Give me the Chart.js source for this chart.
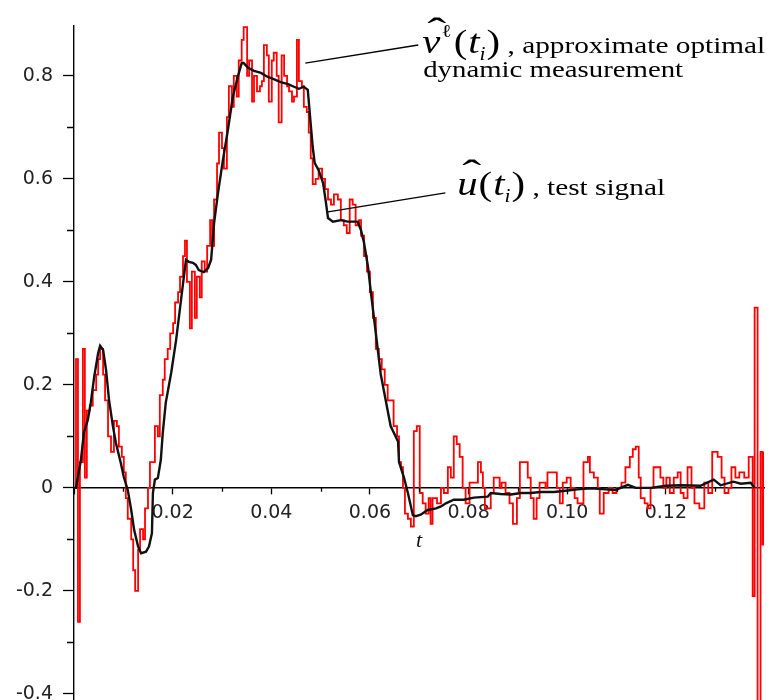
<!DOCTYPE html>
<html>
<head>
<meta charset="utf-8">
<script src="https://cdn.jsdelivr.net/npm/chart.js@4.4.1/dist/chart.umd.min.js"></script>
<style>
  html, body { margin: 0; padding: 0; background: #fff; }
  #wrap { width: 772px; height: 700px; }
</style>
</head>
<body>
<div id="wrap"><canvas id="chart" width="772" height="700"></canvas></div>
<script>
/* global Chart */

// u^(t_i), test signal: [t, value]
const testSignal = [
  [0, 0], [0.0004, 0.0], [0.0014, 0.054], [0.0020, 0.107], [0.0028, 0.132], [0.0034, 0.165],
  [0.0041, 0.216], [0.0049, 0.262], [0.0053, 0.276], [0.0059, 0.268], [0.0065, 0.229],
  [0.0071, 0.171], [0.0079, 0.119], [0.0085, 0.087], [0.0095, 0.048], [0.0101, 0.021],
  [0.0109, -0.004], [0.0116, -0.043], [0.0122, -0.082], [0.0130, -0.114], [0.0136, -0.127],
  [0.0146, -0.124], [0.0152, -0.114], [0.0158, -0.088], [0.0160, -0.01], [0.0164, 0.016],
  [0.0170, 0.019], [0.0176, 0.054], [0.0180, 0.107], [0.0186, 0.165], [0.0197, 0.223],
  [0.0207, 0.287], [0.0217, 0.365], [0.0227, 0.443], [0.0233, 0.439], [0.0241, 0.437],
  [0.0247, 0.433], [0.0253, 0.423], [0.0263, 0.419], [0.0272, 0.427], [0.0278, 0.443],
  [0.0284, 0.514], [0.0292, 0.573], [0.0302, 0.637], [0.0312, 0.695], [0.0322, 0.759],
  [0.0332, 0.798], [0.0340, 0.825], [0.0344, 0.825], [0.0353, 0.816], [0.0365, 0.810],
  [0.0379, 0.806], [0.0393, 0.798], [0.0405, 0.794], [0.0419, 0.788], [0.0434, 0.784],
  [0.0446, 0.779], [0.0456, 0.775], [0.0466, 0.779], [0.0474, 0.773], [0.0478, 0.728],
  [0.0484, 0.662], [0.0488, 0.631], [0.0496, 0.617], [0.0505, 0.592], [0.0511, 0.553],
  [0.0515, 0.524], [0.0525, 0.517], [0.0541, 0.520], [0.0555, 0.517], [0.0575, 0.517],
  [0.0582, 0.500], [0.0588, 0.476], [0.0596, 0.430], [0.0602, 0.379], [0.0612, 0.30],
  [0.0622, 0.22], [0.0632, 0.17], [0.0642, 0.12], [0.0657, 0.09], [0.0659, 0.05],
  [0.0669, 0.02], [0.0677, -0.01], [0.0687, -0.053], [0.0693, -0.055], [0.0703, -0.052],
  [0.0717, -0.043], [0.0734, -0.040], [0.0744, -0.036], [0.0754, -0.030], [0.0770, -0.023],
  [0.0790, -0.023], [0.0811, -0.019], [0.0839, -0.017], [0.0845, -0.010], [0.0865, -0.012],
  [0.0886, -0.013], [0.0906, -0.010], [0.0926, -0.010], [0.0946, -0.008], [0.0973, -0.008],
  [0.1001, -0.005], [0.1021, -0.003], [0.1048, -0.001], [0.1078, -0.003], [0.1098, -0.004],
  [0.1123, 0.006], [0.1139, 0.0], [0.1169, 0.0], [0.1200, 0.004], [0.1230, 0.005],
  [0.1270, 0.004], [0.1297, 0.016], [0.1311, 0.005], [0.1337, 0.012], [0.1352, 0.008],
  [0.1372, 0.010], [0.1380, 0.0],
];

// v^l(t_i), approximate optimal dynamic measurement: [t, value], held until the next t
const measured = [
  [0, 0], [0.0004, 0.25], [0.0008, -0.26], [0.0012, 0.05], [0.0018, 0.27], [0.0022, 0.02],
  [0.0026, 0.15], [0.0032, 0.16], [0.0038, 0.19], [0.0045, 0.22], [0.0049, 0.25], [0.0053, 0.27],
  [0.0059, 0.22], [0.0063, 0.17], [0.0069, 0.10], [0.0075, 0.07], [0.0081, 0.13], [0.0087, 0.12],
  [0.0091, 0.08], [0.0097, 0.06], [0.0101, 0.03], [0.0105, -0.02], [0.0109, -0.06], [0.0116, -0.10],
  [0.0120, -0.16], [0.0124, -0.20], [0.0130, -0.12], [0.0134, -0.08], [0.0140, -0.10], [0.0144, -0.04],
  [0.0150, 0.00], [0.0154, 0.05], [0.0160, 0.05], [0.0164, 0.12], [0.0170, 0.10], [0.0174, 0.18],
  [0.0180, 0.21], [0.0184, 0.25], [0.0190, 0.27], [0.0195, 0.30], [0.0201, 0.32], [0.0205, 0.36],
  [0.0211, 0.38], [0.0215, 0.41], [0.0221, 0.45], [0.0225, 0.48], [0.0229, 0.40], [0.0235, 0.31],
  [0.0239, 0.42], [0.0245, 0.33], [0.0249, 0.41], [0.0255, 0.37], [0.0259, 0.44], [0.0265, 0.42],
  [0.0270, 0.47], [0.0276, 0.52], [0.0280, 0.47], [0.0284, 0.56], [0.0290, 0.63], [0.0294, 0.69],
  [0.0300, 0.66], [0.0304, 0.62], [0.0310, 0.72], [0.0314, 0.78], [0.0320, 0.74], [0.0324, 0.80],
  [0.0330, 0.76], [0.0334, 0.83], [0.0340, 0.87], [0.0344, 0.895], [0.0351, 0.80], [0.0355, 0.83],
  [0.0361, 0.75], [0.0365, 0.80], [0.0371, 0.77], [0.0377, 0.78], [0.0381, 0.79], [0.0385, 0.86],
  [0.0391, 0.84], [0.0395, 0.75], [0.0401, 0.83], [0.0405, 0.845], [0.0411, 0.80], [0.0415, 0.71],
  [0.0421, 0.84], [0.0426, 0.80], [0.0432, 0.78], [0.0436, 0.77], [0.0442, 0.75], [0.0446, 0.76],
  [0.0452, 0.87], [0.0456, 0.79], [0.0462, 0.78], [0.0466, 0.74], [0.0472, 0.73], [0.0476, 0.69],
  [0.0480, 0.64], [0.0484, 0.59], [0.0490, 0.60], [0.0496, 0.62], [0.0503, 0.60], [0.0509, 0.58],
  [0.0515, 0.56], [0.0521, 0.55], [0.0527, 0.57], [0.0535, 0.56], [0.0541, 0.52], [0.0547, 0.51],
  [0.0553, 0.495], [0.0559, 0.56], [0.0565, 0.55], [0.0571, 0.51], [0.0578, 0.52], [0.0582, 0.49],
  [0.0588, 0.45], [0.0594, 0.42], [0.0600, 0.38], [0.0606, 0.33], [0.0612, 0.27], [0.0618, 0.25],
  [0.0624, 0.23], [0.0630, 0.20], [0.0636, 0.17], [0.0642, 0.17], [0.0648, 0.12], [0.0655, 0.10],
  [0.0659, 0.05], [0.0663, 0.04], [0.0667, 0.0], [0.0671, -0.05], [0.0677, -0.06], [0.0683, -0.075],
  [0.0689, 0.11], [0.0695, 0.12], [0.0701, -0.01], [0.0707, -0.03], [0.0713, -0.05], [0.0719, -0.02],
  [0.0723, -0.07], [0.0727, -0.02], [0.0736, -0.03], [0.0744, 0.0], [0.0750, -0.01], [0.0758, 0.04],
  [0.0764, 0.02], [0.0770, 0.10], [0.0776, 0.085], [0.0782, 0.06], [0.0788, 0.0], [0.0794, -0.03],
  [0.0802, 0.01], [0.0811, 0.01], [0.0819, 0.05], [0.0825, 0.03], [0.0829, 0.0], [0.0833, -0.04],
  [0.0841, -0.04], [0.0845, -0.01], [0.0851, 0.02], [0.0859, 0.02], [0.0863, 0.0], [0.0867, 0.01],
  [0.0875, -0.01], [0.0883, -0.03], [0.0890, -0.07], [0.0898, -0.02], [0.0904, 0.05], [0.0914, 0.05],
  [0.0920, 0.02], [0.0926, -0.02], [0.0932, -0.06], [0.0938, -0.02], [0.0944, 0.01], [0.0956, 0.00],
  [0.0960, 0.03], [0.0973, 0.03], [0.0979, 0.0], [0.0985, -0.03], [0.0991, 0.01], [0.0999, 0.02],
  [0.1007, 0.0], [0.1015, -0.02], [0.1021, -0.03], [0.1033, 0.05], [0.1042, 0.06], [0.1046, 0.03],
  [0.1054, 0.02], [0.1062, 0.0], [0.1066, -0.05], [0.1074, -0.01], [0.1084, 0.0], [0.1092, -0.01],
  [0.1100, 0.0], [0.1110, 0.01], [0.1118, 0.04], [0.1127, 0.06], [0.1133, 0.075], [0.1139, 0.08],
  [0.1145, 0.02], [0.1149, -0.02], [0.1157, -0.03], [0.1163, -0.04], [0.1169, 0.0], [0.1175, 0.04],
  [0.1189, 0.02], [0.1195, 0.0], [0.1201, 0.02], [0.1208, -0.01], [0.1216, 0.02], [0.1224, 0.03],
  [0.1230, -0.01], [0.1236, -0.02], [0.1244, 0.04], [0.1252, 0.0], [0.1258, -0.03], [0.1268, -0.04],
  [0.1278, 0.01], [0.1286, -0.01], [0.1294, 0.07], [0.1305, 0.06], [0.1313, 0.02], [0.1319, -0.01],
  [0.1327, 0.0], [0.1333, 0.04], [0.1341, 0.02], [0.1349, 0.03], [0.1359, 0.02], [0.1368, 0.06],
  [0.1376, -0.21], [0.1380, 0.35], [0.1386, -0.42], [0.1392, 0.07], [0.1396, -0.11], [0.1399, 0.07],
];

const X_MIN = 0, X_MAX = 0.1399;
const Y_MIN = -0.412, Y_MAX = 0.897;
const xLabelled = [0.02, 0.04, 0.06, 0.08, 0.10, 0.12];
const xMinor = [0.01, 0.03, 0.05, 0.07, 0.09, 0.11, 0.13];
const yMinor = [-0.3, -0.1, 0.1, 0.3, 0.5, 0.7];

// callouts, anchored in data units
const callouts = [
  { from: [0.0469, 0.825], to: [0.0698, 0.860] },
  { from: [0.0515, 0.536], to: [0.0753, 0.573] },
];
const label1At = [0.0706, 0.845];
const label1b = { at: [0.0708, 0.798], text: "dynamic measurement" };
const label2At = [0.0777, 0.569];

const SX = 1.2; // the source picture is stretched sideways
const SERIF = '"Liberation Serif", "DejaVu Serif", serif';

Chart.defaults.font.family = '"DejaVu Sans", sans-serif';

function drawRich(ctx, x, y, parts) {
  let cx = x;
  for (const p of parts) {
    ctx.font = p.f;
    ctx.save();
    ctx.translate(cx + (p.dx || 0), y + (p.dy || 0));
    ctx.scale(p.sx || SX, 1);
    ctx.fillText(p.t, 0, 0);
    ctx.restore();
    if (!p.noAdv) cx += ctx.measureText(p.t).width * (p.sx || SX) + (p.dx || 0) + (p.gap || 0);
  }
}

function mathLabel(letter, tail) {
  const big = `italic 34px ${SERIF}`;
  const up = `34px ${SERIF}`;
  const small = `italic 18px ${SERIF}`;
  const parts = [
    { t: "\u02C6", f: `38px ${SERIF}`, dx: 5, dy: -9, sx: 1.5, noAdv: true },
    { t: letter, f: big, gap: 1 },
  ];
  if (letter === "v") parts.push({ t: "\u2113", f: `18px ${SERIF}`, dy: -16, gap: 2 });
  parts.push(
    { t: "(", f: up, gap: 1 },
    { t: "t", f: big },
    { t: "i", f: small, dy: 7, gap: 1 },
    { t: ")", f: up },
    { t: tail, f: `24px ${SERIF}`, sx: 1.22 },
  );
  return parts;
}

const decor = {
  id: "decor",
  afterDraw(chart) {
    const { ctx, scales: { x, y } } = chart;
    const px = (t) => x.getPixelForValue(t);
    const py = (v) => y.getPixelForValue(v);
    ctx.save();
    ctx.strokeStyle = "#000";
    ctx.lineWidth = 1.3;

    // minor ticks
    const x0 = px(0), y0 = py(0);
    ctx.beginPath();
    for (const v of yMinor) {
      const yy = Math.round(py(v)) + 0.5;
      ctx.moveTo(x0 - 7, yy);
      ctx.lineTo(x0, yy);
    }
    for (const t of xMinor) {
      const xx = Math.round(px(t)) + 0.5;
      ctx.moveTo(xx, y0);
      ctx.lineTo(xx, y0 + 4);
    }
    ctx.stroke();

    // callout lines
    ctx.lineWidth = 1.4;
    ctx.beginPath();
    for (const c of callouts) {
      ctx.moveTo(px(c.from[0]), py(c.from[1]));
      ctx.lineTo(px(c.to[0]), py(c.to[1]));
    }
    ctx.stroke();

    // callout texts
    ctx.fillStyle = "#000";
    ctx.textBaseline = "alphabetic";
    ctx.textAlign = "left";
    drawRich(ctx, px(label1At[0]), py(label1At[1]), mathLabel("v", " , approximate optimal"));
    drawRich(ctx, px(label1b.at[0]), py(label1b.at[1]), [{ t: label1b.text, f: `24px ${SERIF}` }]);
    drawRich(ctx, px(label2At[0]), py(label2At[1]), mathLabel("u", " , test signal"));
    ctx.restore();
  },
};

const toXY = (arr) => arr.map(([t, v]) => ({ x: t, y: v }));

new Chart(document.getElementById("chart"), {
  type: "line",
  data: {
    datasets: [
      {
        label: "test signal",
        data: toXY(testSignal),
        borderColor: "#111",
        borderWidth: 2.4,
        pointRadius: 0,
        tension: 0,
      },
      {
        label: "approximate optimal dynamic measurement",
        data: toXY(measured),
        borderColor: "#ff0000",
        borderWidth: 1.8,
        pointRadius: 0,
        stepped: "before",
      },
    ],
  },
  options: {
    responsive: false,
    animation: false,
    events: [],
    layout: { padding: { left: 0, right: 8, top: 26, bottom: 0 } },
    plugins: { legend: { display: false }, tooltip: { enabled: false } },
    scales: {
      x: {
        type: "linear",
        min: X_MIN,
        max: X_MAX,
        position: { y: 0 },
        grid: { drawOnChartArea: false, tickLength: 6, tickColor: "#000", tickWidth: 1.3 },
        border: { display: true, color: "#000", width: 1.4 },
        ticks: {
          stepSize: 0.02,
          includeBounds: false,
          padding: 8,
          color: "#222",
          font: { size: 19 },
          maxRotation: 0,
          autoSkip: false,
          callback: (v) => (xLabelled.some((l) => Math.abs(l - v) < 1e-9) ? v.toFixed(2) : ""),
        },
        title: {
          display: true,
          text: "t",
          color: "#111",
          font: { family: SERIF, style: "italic", size: 22 },
          padding: { top: -5, bottom: 0 },
        },
        afterFit: (s) => { s.paddingLeft = 0; s.paddingRight = 0; },
      },
      y: {
        type: "linear",
        min: Y_MIN,
        max: Y_MAX,
        position: "left",
        grid: { drawOnChartArea: false, tickLength: 11, tickColor: "#000", tickWidth: 1.3 },
        border: { display: true, color: "#000", width: 1.4 },
        ticks: {
          stepSize: 0.2,
          includeBounds: false,
          padding: 10,
          color: "#222",
          font: { size: 19 },
          callback: (v) => (Math.abs(v) < 1e-9 ? "0" : v.toFixed(1)),
        },
        afterFit: (s) => { s.width = 74; s.paddingTop = 0; s.paddingBottom = 0; },
      },
    },
  },
  plugins: [decor],
});
</script>
</body>
</html>
